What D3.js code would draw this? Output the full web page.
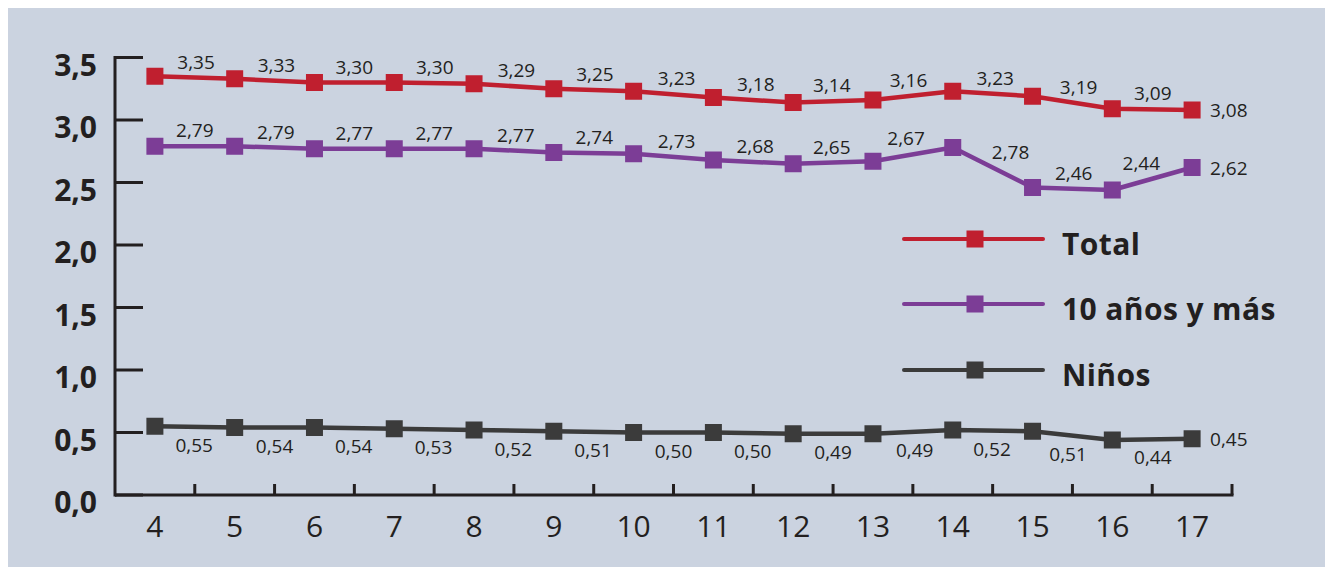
<!DOCTYPE html>
<html>
<head>
<meta charset="utf-8">
<script src="https://cdn.jsdelivr.net/npm/d3@7"></script>
<style>
  html, body { margin: 0; padding: 0; background: #ffffff; }
  svg { display: block; font-family: "Open Sans", "Noto Sans", sans-serif; }
</style>
</head>
<body>
<svg id="chart" width="1325" height="567"></svg>
<script>
// Categories along the x axis
const categories = ["4", "5", "6", "7", "8", "9", "10", "11", "12", "13", "14", "15", "16", "17"];

// Series values
const totalValues = [3.35, 3.33, 3.30, 3.30, 3.29, 3.25, 3.23, 3.18, 3.14, 3.16, 3.23, 3.19, 3.09, 3.08];
const mayoresValues = [2.79, 2.79, 2.77, 2.77, 2.77, 2.74, 2.73, 2.68, 2.65, 2.67, 2.78, 2.46, 2.44, 2.62];
const ninosValues = [0.55, 0.54, 0.54, 0.53, 0.52, 0.51, 0.50, 0.50, 0.49, 0.49, 0.52, 0.51, 0.44, 0.45];

// Series names (legend)
const seriesNames = ["Total", "10 años y más", "Niños"];

// Y axis ticks
const yTicks = [0, 0.5, 1.0, 1.5, 2.0, 2.5, 3.0, 3.5];

const series = [
  { name: seriesNames[0], values: totalValues, color: "#c01f2f", labelSide: -1 },
  { name: seriesNames[1], values: mayoresValues, color: "#7c3d96", labelSide: -1 },
  { name: seriesNames[2], values: ninosValues, color: "#3b3b3b", labelSide: 1 }
];

const svg = d3.select("#chart");
const fmt = v => d3.format(".2f")(v).replace(".", ",");
const fmtTick = v => d3.format(".1f")(v).replace(".", ",");
const ink = "#231f20";

// Panel background
svg.append("rect")
  .attr("x", 8).attr("y", 8)
  .attr("width", 1317).attr("height", 559)
  .attr("fill", "#cbd3e0");

const x = d3.scaleBand().domain(categories).range([115, 1232]).padding(0);
const y = d3.scaleLinear().domain([0, 3.5]).range([495, 57.5]);
const cx = c => x(c) + x.bandwidth() / 2;

// Y axis
const yAxis = svg.append("g");
yAxis.append("line")
  .attr("x1", x.range()[0]).attr("x2", x.range()[0])
  .attr("y1", y(3.5) - 1.5).attr("y2", y(0) + 1.5)
  .attr("stroke", ink).attr("stroke-width", 3);
const yt = yAxis.selectAll("g.tick").data(yTicks).join("g").attr("class", "tick");
yt.append("line")
  .attr("x1", x.range()[0]).attr("x2", x.range()[0] + 28)
  .attr("y1", d => y(d)).attr("y2", d => y(d))
  .attr("stroke", ink).attr("stroke-width", 3);
yt.append("text")
  .attr("x", 97).attr("y", d => y(d) + 18)
  .attr("text-anchor", "end")
  .attr("font-size", 30).attr("font-weight", 700)
  .attr("fill", ink)
  .text(fmtTick);

// X axis: baseline with ticks at the band boundaries
const xAxis = svg.append("g");
xAxis.append("line")
  .attr("x1", x.range()[0]).attr("x2", x.range()[1] + 1.5)
  .attr("y1", y(0)).attr("y2", y(0))
  .attr("stroke", ink).attr("stroke-width", 3);
const bounds = categories.slice(1).map(c => x(c)).concat([x.range()[1]]);
xAxis.selectAll("line.tick").data(bounds).join("line").attr("class", "tick")
  .attr("x1", d => d).attr("x2", d => d)
  .attr("y1", y(0)).attr("y2", y(0) - 11)
  .attr("stroke", ink).attr("stroke-width", 3);
xAxis.selectAll("text").data(categories).join("text")
  .attr("x", d => cx(d)).attr("y", 537)
  .attr("text-anchor", "middle")
  .attr("font-size", 30)
  .attr("fill", ink)
  .text(d => d);

// Lines, markers and value labels
const line = d3.line().x((d, i) => cx(categories[i])).y(d => y(d));
const msize = 17;

series.forEach(s => {
  const g = svg.append("g");
  g.append("path")
    .attr("d", line(s.values))
    .attr("fill", "none")
    .attr("stroke", s.color)
    .attr("stroke-width", 4.5)
    .attr("stroke-linejoin", "round");
  g.selectAll("rect").data(s.values).join("rect")
    .attr("x", (d, i) => cx(categories[i]) - msize / 2)
    .attr("y", d => y(d) - msize / 2)
    .attr("width", msize).attr("height", msize)
    .attr("fill", s.color);

  // Each value sits beside the segment that leaves its point, pushed
  // sideways along the segment normal so it clears sloped lines.
  const n = s.values.length;
  const labelPos = s.values.map((d, i) => {
    const x0 = cx(categories[i]), y0 = y(d);
    if (i === n - 1) return { x: x0 + 18, y: y0 + 7, anchor: "start" };
    const x1 = cx(categories[i + 1]), y1 = y(s.values[i + 1]);
    const len = Math.hypot(x1 - x0, y1 - y0);
    const ux = (x1 - x0) / len, uy = (y1 - y0) / len;
    const nx = s.labelSide < 0 ? uy : -uy;
    const mx = (x0 + x1) / 2, my = (y0 + y1) / 2;
    return {
      x: mx + nx * 40,
      y: s.labelSide < 0 ? my - 16 + 7 : my + 18 + 7,
      anchor: "middle"
    };
  });
  g.selectAll("text").data(s.values).join("text")
    .attr("x", (d, i) => labelPos[i].x)
    .attr("y", (d, i) => labelPos[i].y)
    .attr("text-anchor", (d, i) => labelPos[i].anchor)
    .attr("font-size", 19)
    .attr("fill", ink)
    .text(fmt);
});

// Legend
const legendY = [239, 304, 370];
const lg = svg.append("g");
series.forEach((s, i) => {
  const row = lg.append("g");
  row.append("line")
    .attr("x1", 904).attr("x2", 1043)
    .attr("y1", legendY[i]).attr("y2", legendY[i])
    .attr("stroke", s.color).attr("stroke-width", 4)
    .attr("stroke-linecap", "round");
  row.append("rect")
    .attr("x", 975 - msize / 2).attr("y", legendY[i] - msize / 2)
    .attr("width", msize).attr("height", msize)
    .attr("fill", s.color);
  row.append("text")
    .attr("x", 1062).attr("y", legendY[i] + 16)
    .attr("font-size", 30).attr("font-weight", 700)
    .attr("letter-spacing", 0.4)
    .attr("fill", ink)
    .text(s.name);
});
</script>
</body>
</html>
